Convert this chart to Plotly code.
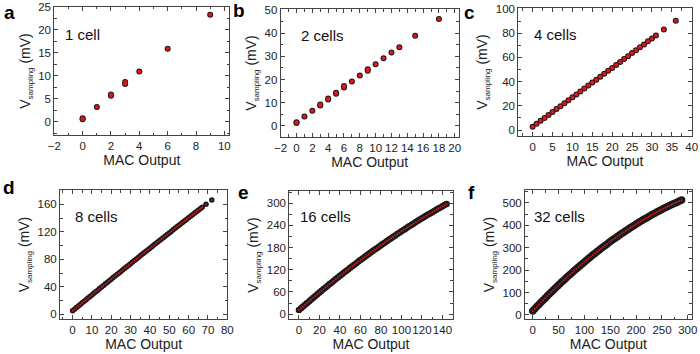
import plotly.graph_objects as go

# ---------------- data ----------------
a_x = [0, 0, 1, 2, 2, 3, 3, 4, 6, 9]
a_v = [0.7, 0.5, 3.2, 5.6, 5.9, 8.2, 8.6, 10.9, 15.9, 23.3]

b_x = [0, 0, 1, 2, 3, 3, 4, 4, 5, 5, 6, 6, 7, 8, 9, 9, 10, 11, 12, 13, 15, 18]
b_v = [1.2, 1.5, 4.0, 6.5, 8.8, 9.2, 11.4, 11.8, 13.8, 14.3, 16.5, 17.2, 19.1, 21.7,
       23.8, 24.4, 26.6, 29.2, 31.6, 33.9, 38.9, 46.1]

c_x = [0, 1, 2, 3, 4, 5, 6, 7, 8, 9, 10, 11, 12, 13, 14, 15, 16, 17, 18, 19, 20,
       21, 22, 23, 24, 25, 26, 27, 28, 29, 30, 31, 33, 36]
c_v = [2.7, 5.1, 7.6, 10.0, 12.4, 14.9, 17.3, 19.7, 22.1, 24.6, 27.0, 29.4, 31.9,
       34.3, 36.7, 39.2, 41.6, 44.0, 46.4, 48.9, 51.3, 53.7, 56.2, 58.6, 61.0, 63.5,
       65.9, 68.3, 70.7, 73.2, 75.6, 78.0, 82.9, 90.2]

d_x = [0, 1, 2, 3, 4, 5, 6, 7, 8, 9, 10, 11, 12, 13, 14, 15, 16, 17, 18, 19, 20,
       21, 22, 23, 24, 25, 26, 27, 28, 29, 30, 31, 32, 33, 34, 35, 36, 37, 38, 39,
       40, 41, 42, 43, 44, 45, 46, 47, 48, 49, 50, 51, 52, 53, 54, 55, 56, 57, 58,
       59, 60, 61, 62, 63, 64, 65, 66, 67, 69, 72]
d_v = [5.0, 7.3, 9.6, 12.0, 14.3, 16.6, 18.9, 21.2, 23.5, 25.8, 28.1, 30.4, 32.7,
       35.0, 37.3, 39.6, 41.9, 44.2, 46.4, 48.7, 51.0, 53.3, 55.6, 57.8, 60.1, 62.4,
       64.6, 66.9, 69.2, 71.4, 73.7, 76.0, 78.2, 80.5, 82.7, 85.0, 87.2, 89.5, 91.7,
       94.0, 96.2, 98.4, 100.7, 102.9, 105.1, 107.4, 109.6, 111.8, 114.1, 116.3,
       118.5, 120.7, 122.9, 125.2, 127.4, 129.6, 131.8, 134.0, 136.2, 138.4, 140.6,
       142.8, 145.0, 147.2, 149.4, 151.6, 153.8, 155.9, 160.3, 166.5]

e_x = [0, 2, 4, 6, 8, 10, 12, 14, 16, 18, 20, 22, 24, 26, 28, 30, 32, 34, 36, 38,
       40, 42, 44, 46, 48, 50, 52, 54, 56, 58, 60, 62, 64, 66, 68, 70, 72, 74, 76,
       78, 80, 82, 84, 86, 88, 90, 92, 94, 96, 98, 100, 102, 104, 106, 108, 110,
       112, 114, 116, 118, 120, 122, 124, 126, 128, 130, 132, 134, 136, 138, 140,
       142, 144]
e_v = [11.0, 15.9, 20.7, 25.5, 30.3, 35.1, 39.8, 44.6, 49.2, 53.9, 58.6, 63.2, 67.8,
       72.3, 76.9, 81.4, 85.9, 90.4, 94.8, 99.2, 103.6, 108.0, 112.4, 116.7, 121.0,
       125.3, 129.5, 133.7, 137.9, 142.1, 146.2, 150.4, 154.5, 158.5, 162.6, 166.6,
       170.6, 174.6, 178.5, 182.5, 186.4, 190.2, 194.1, 197.9, 201.7, 205.5, 209.2,
       213.0, 216.7, 220.3, 224.0, 227.6, 231.2, 234.8, 238.4, 241.9, 245.4, 248.9,
       252.3, 255.8, 259.2, 262.5, 265.9, 269.2, 272.5, 275.8, 279.1, 282.3, 285.5,
       288.7, 291.8, 295.0, 298.1]

f_x = [0, 4, 8, 12, 16, 20, 24, 28, 32, 36, 40, 44, 48, 52, 56, 60, 64, 68, 72, 76,
       80, 84, 88, 92, 96, 100, 104, 108, 112, 116, 120, 124, 128, 132, 136, 140,
       144, 148, 152, 156, 160, 164, 168, 172, 176, 180, 184, 188, 192, 196, 200,
       204, 208, 212, 216, 220, 224, 228, 232, 236, 240, 244, 248, 252, 256, 260,
       264, 268, 272, 276, 280, 284, 288]
f_v = [18.0, 27.7, 37.3, 46.9, 56.3, 65.7, 75.0, 84.2, 93.4, 102.4, 111.4, 120.3,
       129.1, 137.9, 146.5, 155.1, 163.6, 172.0, 180.4, 188.6, 196.8, 204.9, 212.9,
       220.9, 228.7, 236.5, 244.2, 251.8, 259.4, 266.8, 274.2, 281.5, 288.7, 295.9,
       302.9, 309.9, 316.8, 323.6, 330.4, 337.0, 343.6, 350.1, 356.5, 362.9, 369.1,
       375.3, 381.4, 387.4, 393.4, 399.2, 405.0, 410.7, 416.3, 421.9, 427.3, 432.7,
       438.0, 443.2, 448.4, 453.4, 458.4, 463.3, 468.1, 472.9, 477.5, 482.1, 486.6,
       491.0, 495.4, 499.6, 503.8, 507.9, 511.9]

panel_letters = ["a", "b", "c", "d", "e", "f"]
panel_labels = ["1 cell", "2 cells", "4 cells", "8 cells", "16 cells", "32 cells"]
x_title = "MAC Output"
y_title = "V<sub><span style='font-size:8px'>sampling</span></sub> (mV)"

# ---------------- layout config ----------------
FONT = "Liberation Sans, Arial, sans-serif"
RED = "#e3141b"
BLK = "#1a1a1a"
FRAME = "#444444"

W, H = 700, 354


def px_dom(l, r):
    return [l / W, r / W]


def py_dom(top, bot):
    return [1 - bot / H, 1 - top / H]


panels = [
    dict(x=a_x, v=a_v, xd=px_dom(54.3, 229.3), yd=py_dom(6.7, 135.3),
         xr=[-2, 10.35], yr=[-3, 25.05], xdt=2, xmin=1, ydt=5, ymin=2.5,
         bs=6, rs=4, lab=(63, 34), let=(2, 12)),
    dict(x=b_x, v=b_v, xd=px_dom(280.7, 458.7), yd=py_dom(9.3, 136.7),
         xr=[-2, 20.5], yr=[-4.7, 50.3], xdt=2, xmin=1, ydt=10, ymin=5,
         bs=6, rs=4, lab=(299, 36), let=(231, 11)),
    dict(x=c_x, v=c_v, xd=px_dom(518.3, 691.7), yd=py_dom(8.3, 135.7),
         xr=[-3.6, 40], yr=[-4.7, 100.5], xdt=5, xmin=2.5, ydt=20, ymin=10,
         bs=6, rs=4, lab=(532, 34), let=(462, 12)),
    dict(x=d_x, v=d_v, xd=px_dom(60, 227.3), yd=py_dom(190, 319),
         xr=[-6.5, 80], yr=[-7, 181], xdt=10, xmin=5, ydt=40, ymin=20,
         bs=5.5, rs=1.9, lab=(73, 216), let=(1, 187)),
    dict(x=e_x, v=e_v, xd=px_dom(289.3, 452.7), yd=py_dom(191, 319),
         xr=[-9.4, 150], yr=[-13, 333], xdt=20, xmin=10, ydt=60, ymin=30,
         bs=6.5, rs=1.9, lab=(298, 216), let=(236, 192)),
    dict(x=f_x, v=f_v, xd=px_dom(525, 691.7), yd=py_dom(190, 319),
         xr=[-15, 307.5], yr=[-18, 557], xdt=50, xmin=25, ydt=100, ymin=50,
         bs=7.5, rs=1.9, lab=(532, 216), let=(466, 192)),
]

fig = go.Figure()
layout = dict(
    template="none",
    width=W, height=H, margin=dict(l=0, r=0, t=0, b=0, autoexpand=False),
    paper_bgcolor="white", plot_bgcolor="white", showlegend=False,
    font=dict(family=FONT, color="#222222", size=11),
)
annotations = []

for i, p in enumerate(panels):
    k = "" if i == 0 else str(i + 1)
    xa, ya = "x" + k, "y" + k
    fig.add_trace(go.Scatter(x=p["x"], y=p["v"], mode="markers", xaxis=xa, yaxis=ya,
                             marker=dict(color=BLK, size=p["bs"], line=dict(width=0)),
                             hoverinfo="skip"))
    fig.add_trace(go.Scatter(x=p["x"], y=p["v"], mode="markers", xaxis=xa, yaxis=ya,
                             marker=dict(color=RED, size=p["rs"], line=dict(width=0))))
    common = dict(showline=True, linecolor=FRAME, linewidth=1, mirror="ticks",
                  ticks="inside", ticklen=4, tickwidth=1, tickcolor=FRAME,
                  showgrid=False, zeroline=False, tickangle=0, automargin=False,
                  tickfont=dict(family=FONT, size=11.5, color="#222222"))
    layout["xaxis" + k] = dict(
        common, domain=p["xd"], range=p["xr"], anchor=ya, dtick=p["xdt"], tick0=0,
        minor=dict(ticks="inside", ticklen=2.5, dtick=p["xmin"], tick0=0,
                   tickcolor=FRAME, showgrid=False),
        title=dict(text=x_title, font=dict(family=FONT, size=14, color="#222222"),
                   standoff=4),
    )
    layout["yaxis" + k] = dict(
        common, domain=p["yd"], range=p["yr"], anchor=xa, dtick=p["ydt"], tick0=0,
        minor=dict(ticks="inside", ticklen=2.5, dtick=p["ymin"], tick0=0,
                   tickcolor=FRAME, showgrid=False),
        title=dict(text=y_title, font=dict(family=FONT, size=14, color="#222222"),
                   standoff=4),
    )
    annotations.append(dict(text=panel_labels[i], x=p["lab"][0] / W, y=1 - p["lab"][1] / H,
                            xref="paper", yref="paper", xanchor="left", yanchor="middle",
                            showarrow=False,
                            font=dict(family=FONT, size=15, color="#111111")))
    annotations.append(dict(text="<b>" + panel_letters[i] + "</b>",
                            x=p["let"][0] / W, y=1 - p["let"][1] / H,
                            xref="paper", yref="paper", xanchor="left", yanchor="middle",
                            showarrow=False,
                            font=dict(family=FONT, size=19, color="#000000")))

layout["annotations"] = annotations
fig.update_layout(layout)
fig.write_html("out.html", config={"displayModeBar": False},
               post_script="document.body.style.margin='0';")
